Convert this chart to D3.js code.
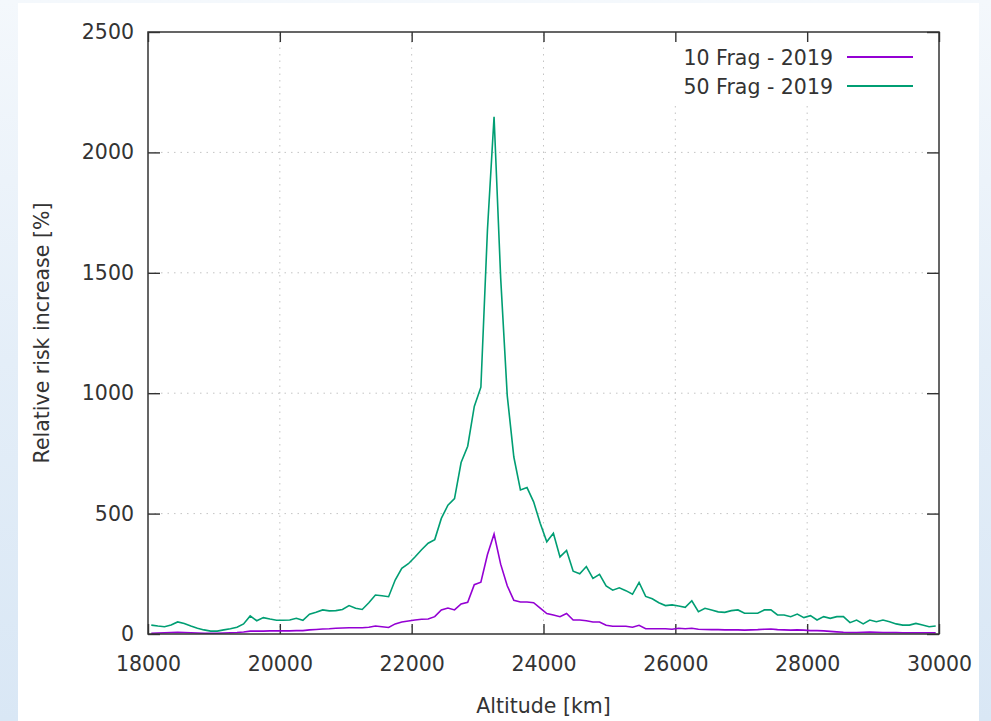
<!DOCTYPE html>
<html>
<head>
<meta charset="utf-8">
<script src="https://cdn.jsdelivr.net/npm/d3@7"></script>
<style>
  html, body { margin: 0; padding: 0; background: #ffffff; }
  svg { display: block; }
  text { font-family: "DejaVu Sans", Verdana, sans-serif; fill: #333333; }
</style>
</head>
<body>
<svg id="chart" width="991" height="721"></svg>
<script>
// ---------------- data ----------------
const altStart = 18050;   // first bin centre [km]
const altStep = 100;      // bin width [km]
const frag10 = [3,4,5,6,7,6,5,4,3,3, 3,4,5,6,8,12,12,12,13,13,
  13,13,14,14,17,19,21,22,24,25, 26,26,26,28,33,30,27,42,50,54,
  58,61,62,72,100,108,100,125,132,205, 215,330,415,290,200,140,133,133,130,107,
  85,79,72,85,58,58,55,50,50,36, 32,32,32,28,36,22,22,22,22,20,
  24,22,24,20,19,18,18,17,17,17, 16,17,18,20,21,18,17,16,17,16,
  14,14,13,11,9,7,6,6,7,8, 7,6,6,6,5,5,5,5,5,5];
const frag50 = [37,33,30,37,50,44,33,24,17,12, 12,17,22,28,42,75,55,68,62,57,
  57,58,65,57,82,90,100,96,97,102, 118,107,102,130,162,159,155,224,273,292,
  320,350,377,392,480,535,562,712,780,945, 1025,1680,2148,1480,990,735,598,608,549,460,
  383,418,320,347,261,250,280,231,248,200, 182,192,180,165,214,156,146,130,118,121,
  116,111,138,93,107,100,92,90,97,100, 86,86,86,100,100,79,79,72,83,68,
  76,58,72,65,72,72,47,58,42,58, 51,58,51,42,37,37,44,37,30,33];
const seriesNames = ["10 Frag - 2019", "50 Frag - 2019"];
const seriesColors = ["#9400d3", "#009e73"];
const xTicks = [18000, 20000, 22000, 24000, 26000, 28000, 30000];
const yTicks = [0, 500, 1000, 1500, 2000, 2500];
const xTitle = "Altitude [km]";
const yTitle = "Relative risk increase [%]";

// ---------------- layout ----------------
const W = 991, H = 721;
const L = 148, R = 939, T = 32, B = 634;
const svg = d3.select("#chart");

// background with soft blue edges
const defs = svg.append("defs");
const bg = defs.append("linearGradient").attr("id", "bg")
  .attr("x1", "0").attr("y1", "0").attr("x2", "0").attr("y2", "1");
bg.append("stop").attr("offset", "0").attr("stop-color", "#f4f8fc");
bg.append("stop").attr("offset", "0.5").attr("stop-color", "#e4eef8");
bg.append("stop").attr("offset", "1").attr("stop-color", "#d9e7f5");
svg.append("rect").attr("width", W).attr("height", H).attr("fill", "url(#bg)");
svg.append("rect").attr("x", 18).attr("y", 3).attr("width", 961).attr("height", H - 3).attr("fill", "#ffffff");

const altitudes = frag10.map((_, i) => altStart + altStep * i);

const x = d3.scaleLinear().domain([xTicks[0], xTicks[xTicks.length - 1]]).range([L, R]);
const y = d3.scaleLinear().domain([yTicks[0], yTicks[yTicks.length - 1]]).range([B, T]);

// grid
const grid = svg.append("g");
grid.selectAll("line.gx").data(xTicks.slice(1, -1)).enter().append("line")
  .attr("x1", d => x(d)).attr("x2", d => x(d)).attr("y1", B).attr("y2", T)
  .attr("stroke", "#c4c4c4").attr("stroke-width", 1).attr("stroke-dasharray", "1.5,5");
grid.selectAll("line.gy").data(yTicks.slice(1, -1)).enter().append("line")
  .attr("x1", L).attr("x2", R).attr("y1", d => y(d)).attr("y2", d => y(d))
  .attr("stroke", "#c4c4c4").attr("stroke-width", 1).attr("stroke-dasharray", "1.5,5");

// legend background (opaque, hides grid)
svg.append("rect").attr("x", 660).attr("y", T + 1).attr("width", R - 661).attr("height", 68).attr("fill", "#ffffff");

// axes
const axisStyle = g => {
  g.select(".domain").remove();
  g.selectAll(".tick line").attr("stroke", "#333333").attr("stroke-width", 1.4);
  g.selectAll(".tick text").style("font-size", "20.5px").attr("fill", "#333333");
};
svg.append("g").attr("transform", `translate(0,${B})`)
  .call(d3.axisBottom(x).tickValues(xTicks).tickFormat(d3.format("d")).tickSize(-10).tickPadding(22))
  .call(axisStyle);
svg.append("g").attr("transform", `translate(0,${T})`)
  .call(d3.axisTop(x).tickValues(xTicks).tickFormat("").tickSize(-10))
  .call(axisStyle);
svg.append("g").attr("transform", `translate(${L},0)`)
  .call(d3.axisLeft(y).tickValues(yTicks).tickFormat(d3.format("d")).tickSize(-12).tickPadding(14))
  .call(axisStyle);
svg.append("g").attr("transform", `translate(${R},0)`)
  .call(d3.axisRight(y).tickValues(yTicks).tickFormat("").tickSize(-12))
  .call(axisStyle);

// lines
const line = d3.line().x((d, i) => x(altitudes[i])).y(d => y(d));
[frag10, frag50].forEach((s, k) => {
  svg.append("path").datum(s).attr("d", line)
    .attr("fill", "none").attr("stroke", seriesColors[k]).attr("stroke-width", 1.6)
    .attr("stroke-linejoin", "miter");
});

// border
svg.append("rect").attr("x", L).attr("y", T).attr("width", R - L).attr("height", B - T)
  .attr("fill", "none").attr("stroke", "#333333").attr("stroke-width", 1.5);

// legend
const leg = svg.append("g");
seriesNames.forEach((n, k) => {
  const cy = 58 + k * 29;
  leg.append("text").attr("x", 833).attr("y", cy).attr("dy", "0.36em")
    .attr("text-anchor", "end").style("font-size", "20.5px").text(n);
  leg.append("line").attr("x1", 847).attr("x2", 913).attr("y1", cy - 1).attr("y2", cy - 1)
    .attr("stroke", seriesColors[k]).attr("stroke-width", 1.8);
});

// titles
svg.append("text").attr("x", (L + R) / 2).attr("y", 706).attr("dy", "0.36em")
  .attr("text-anchor", "middle").style("font-size", "20.5px").text(xTitle);
svg.append("text").attr("transform", `translate(42,${(T + B) / 2}) rotate(-90)`).attr("dy", "0.36em")
  .attr("text-anchor", "middle").style("font-size", "20.5px").text(yTitle);
</script>
</body>
</html>
